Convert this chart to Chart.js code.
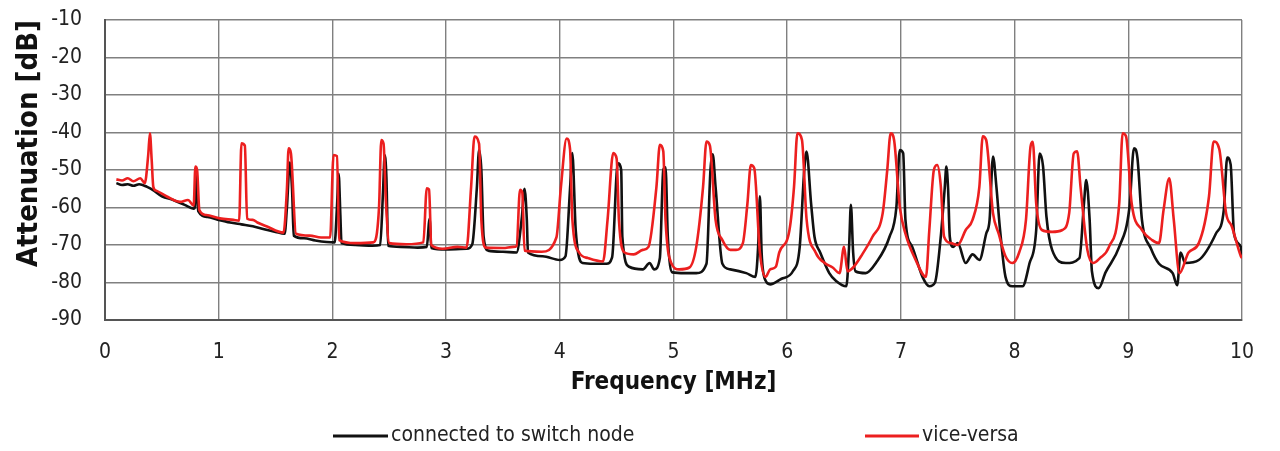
<!DOCTYPE html>
<html>
<head>
<meta charset="utf-8">
<script src="https://cdn.jsdelivr.net/npm/chart.js@4/dist/chart.umd.min.js"></script>
<style>
  html, body { margin: 0; padding: 0; background: #fff; }
  #wrap { width: 1280px; height: 451px; }
</style>
</head>
<body>
<div id="wrap"><canvas id="chartCanvas" width="1280" height="451"></canvas></div>
<script>
"use strict";

// series labels
const seriesNames = ['connected to switch node', 'vice-versa'];

// connected to switch node (black)
const blackFreq = [0.10, 0.15, 0.20, 0.25, 0.30, 0.37, 0.43, 0.50, 0.60, 0.70, 0.78, 0.79, 0.805, 0.82, 0.90,
    1.00, 1.10, 1.20, 1.30, 1.40, 1.50, 1.58, 1.60, 1.625, 1.645, 1.66, 1.75, 1.85, 1.95, 2.02, 2.04, 2.055, 2.07,
    2.08, 2.20, 2.35, 2.42, 2.445, 2.46, 2.475, 2.49, 2.60, 2.75, 2.83, 2.855, 2.87, 3.00, 3.18, 3.23, 3.27, 3.29,
    3.31, 3.33, 3.37, 3.50, 3.62, 3.665, 3.69, 3.71, 3.72, 3.85, 4.00, 4.05, 4.09, 4.11, 4.14, 4.20, 4.30, 4.41,
    4.46, 4.51, 4.54, 4.55, 4.61, 4.73, 4.79, 4.83, 4.88, 4.91, 4.93, 4.95, 4.99, 5.10, 5.20, 5.29, 5.325, 5.345,
    5.37, 5.43, 5.50, 5.64, 5.72, 5.745, 5.76, 5.775, 5.81, 5.85, 5.95, 6.05, 6.11, 6.15, 6.17, 6.21, 6.24, 6.29,
    6.37, 6.43, 6.52, 6.545, 6.56, 6.58, 6.60, 6.69, 6.78, 6.90, 6.96, 6.99, 7.02, 7.04, 7.10, 7.19, 7.25, 7.30,
    7.35, 7.385, 7.40, 7.415, 7.43, 7.46, 7.50, 7.57, 7.63, 7.69, 7.75, 7.78, 7.81, 7.84, 7.87, 7.92, 7.98, 8.07,
    8.13, 8.19, 8.22, 8.25, 8.28, 8.33, 8.45, 8.57, 8.61, 8.63, 8.66, 8.68, 8.74, 8.80, 8.92, 9.01, 9.05, 9.08,
    9.12, 9.20, 9.27, 9.39, 9.43, 9.46, 9.50, 9.62, 9.77, 9.84, 9.87, 9.90, 9.93, 9.99, 10.00];
const blackDb = [-53.5, -54, -53.8, -54.2, -53.8, -54.5, -55.5, -57, -58, -59.3, -60.3, -60, -51, -61, -62.5,
    -63.3, -64, -64.5, -65, -65.8, -66.5, -67, -60, -48, -55, -67.5, -68.2, -68.8, -69.2, -69.3, -60, -51, -62,
    -69.5, -70, -70.2, -70, -56, -46, -52, -70.2, -70.5, -70.7, -70.5, -63, -70.8, -71.2, -71, -69.8, -55, -44.7,
    -50, -67.8, -71.5, -71.8, -72, -63, -55, -63.3, -72, -73, -74, -73, -55, -45.5, -66, -74.8, -75, -75,
    -73.3, -48.2, -50, -67.8, -75.8, -76.5, -74.8, -76.5, -73.5, -50, -49.3, -67.8, -77.3, -77.5, -77.5, -75, -50, -45.8,
    -54.5, -75, -76.5, -77.5, -78.5, -70, -57, -72, -79.5, -80.5, -79, -77, -70.5, -50, -45.1, -58.9, -67.8, -72,
    -77.5, -79.6, -81, -70, -59.3, -72, -77, -77.5, -74.8, -67.8, -60, -44.7, -45.5, -63.3, -70.5, -78.5, -81, -80,
    -68, -55, -49.1, -55, -67.8, -70.5, -69.5, -74.8, -72.5, -74, -67, -63.3, -46.4, -54.5, -65.3, -78.5, -81, -81,
    -75, -66, -45.6, -49, -62.4, -71.3, -74.8, -73.5, -59, -52.7, -63.3, -77, -81.5, -77.3, -70.5, -60, -44.2, -46.7,
    -63.3, -71, -75, -77.5, -80.7, -72, -74.8, -74, -67, -60.7, -46.7, -48.5, -67, -70.5, -73];

// vice-versa (red)
const redFreq = [0.10, 0.15, 0.20, 0.25, 0.31, 0.35, 0.38, 0.395, 0.41, 0.425, 0.45, 0.54, 0.66, 0.73, 0.78,
    0.795, 0.81, 0.83, 0.89, 1.01, 1.13, 1.18, 1.20, 1.23, 1.25, 1.30, 1.34, 1.42, 1.57, 1.60, 1.615, 1.635, 1.68,
    1.80, 1.90, 1.98, 2.01, 2.04, 2.06, 2.20, 2.36, 2.41, 2.43, 2.45, 2.47, 2.50, 2.65, 2.80, 2.83, 2.85, 2.87,
    2.97, 3.10, 3.18, 3.22, 3.25, 3.29, 3.31, 3.35, 3.50, 3.59, 3.62, 3.65, 3.67, 3.69, 3.84, 3.97, 4.01, 4.06,
    4.09, 4.11, 4.17, 4.25, 4.38, 4.42, 4.47, 4.50, 4.52, 4.57, 4.65, 4.73, 4.78, 4.85, 4.88, 4.91, 4.93, 4.98,
    5.05, 5.14, 5.20, 5.26, 5.29, 5.32, 5.37, 5.43, 5.50, 5.55, 5.61, 5.65, 5.68, 5.71, 5.76, 5.81, 5.85, 5.90,
    5.93, 6.02, 6.06, 6.09, 6.13, 6.17, 6.25, 6.33, 6.40, 6.46, 6.50, 6.53, 6.58, 6.66, 6.75, 6.84, 6.88, 6.91,
    6.94, 6.99, 7.04, 7.13, 7.22, 7.25, 7.29, 7.32, 7.35, 7.38, 7.44, 7.50, 7.57, 7.63, 7.69, 7.72, 7.75, 7.81,
    7.86, 7.92, 7.98, 8.04, 8.10, 8.14, 8.16, 8.19, 8.24, 8.33, 8.42, 8.48, 8.52, 8.55, 8.58, 8.64, 8.69, 8.75,
    8.83, 8.92, 8.95, 8.98, 9.03, 9.12, 9.21, 9.27, 9.31, 9.36, 9.40, 9.45, 9.53, 9.62, 9.71, 9.75, 9.80, 9.86,
    9.91, 9.99, 10.00];
const redDb = [-52.5, -52.8, -52.2, -53, -52.2, -53.5, -46, -40.2, -47, -54.5, -55.5, -57, -58.5, -58, -59.5,
    -49.1, -50, -60.7, -62, -62.9, -63.3, -63.5, -42.9, -43.5, -63, -63.3, -64, -65, -66.7, -55, -44.2, -45.5, -67,
    -67.5, -68, -68, -46, -46.3, -68.7, -69.5, -69.3, -60, -42, -43, -58, -69.5, -69.8, -69.3, -54.9, -55.2, -70,
    -71, -70.5, -70.7, -54.5, -41.1, -43, -63.3, -70.7, -70.8, -70.5, -70.3, -55.3, -56, -71.5, -71.8, -68, -54.5, -41.6,
    -44.4, -63, -72, -73.5, -74.4, -63.3, -45.5, -47, -63.3, -72, -72.5, -71.3, -70.5, -54.5, -43.3, -45, -63.3, -74.8,
    -76.5, -76, -70.5, -54.5, -42.4, -43.5, -63.3, -68.7, -71.3, -71.3, -69.5, -59, -48.7, -49.5, -72, -78.5, -76.5, -75.8,
    -72, -66, -54.5, -40.2, -42, -63, -72, -74.8, -76, -77.5, -70.5, -77, -76, -72.5, -67.8, -61.5, -50, -40.2,
    -42, -59.8, -67, -74, -78.5, -66, -50, -48.7, -54, -67.8, -69.5, -70, -66, -63.3, -54.5, -41, -42, -61.5,
    -67, -73, -74.8, -72, -63.3, -43.8, -42.5, -58.9, -66, -66.5, -66, -61.5, -45.6, -45, -54.5, -71.3, -74.8, -73.5,
    -70.5, -59, -40.2, -41, -59, -66, -68.7, -69.5, -60.7, -52.2, -63.3, -77.5, -72, -69.5, -57, -42.4, -44.4, -61.5,
    -65, -73, -73.5];

// axis ranges
const freqTicks = [0, 10, 1];
const dbTicks = [-90, -10, 10];

const toPoints = (xs, ys) => xs.map((x, i) => ({ x: x, y: ys[i] }));

const FONT = "'Liberation Sans Narrow', 'Arial Narrow', 'DejaVu Sans Condensed', sans-serif";

// legend drawn by hand, the two entries sit far apart
const bottomLegend = {
    id: 'bottomLegend',
    afterDraw(chart) {
        const ctx = chart.ctx;
        const spots = [[333, 388], [865, 919]];
        ctx.save();
        ctx.font = "21px " + FONT;
        ctx.textBaseline = 'middle';
        ctx.fillStyle = '#222';
        chart.data.datasets.forEach((ds, i) => {
            const y = 436;
            ctx.strokeStyle = ds.borderColor;
            ctx.lineWidth = 3;
            ctx.beginPath();
            ctx.moveTo(spots[i][0], y);
            ctx.lineTo(spots[i][1], y);
            ctx.stroke();
            ctx.fillText(ds.label, spots[i][1] + 3, y);
        });
        ctx.restore();
    }
};

const ctx = document.getElementById('chartCanvas');

const data = {
    datasets: [{
        label: seriesNames[0],
        data: toPoints(blackFreq, blackDb),
        borderColor: '#111111',
        backgroundColor: '#111111',
        borderWidth: 2.6,
        order: 2
    }, {
        label: seriesNames[1],
        data: toPoints(redFreq, redDb),
        borderColor: '#ec1f1f',
        backgroundColor: '#ec1f1f',
        borderWidth: 2.6,
        order: 1
    }]
};

const config = {
    type: 'line',
    data: data,
    options: {
        responsive: false,
        animation: false,
        events: [],
        layout: { padding: { left: 12, right: 38, top: 20, bottom: 54 } },
        elements: { point: { radius: 0 }, line: { cubicInterpolationMode: 'monotone' } },
        plugins: {
            legend: { display: false },
            tooltip: { enabled: false }
        },
        scales: {
            x: {
                type: 'linear',
                min: freqTicks[0],
                max: freqTicks[1],
                afterFit: (s) => { s.height = 77; },
                ticks: { stepSize: freqTicks[2], padding: 20, color: '#222', font: { family: FONT, size: 21 } },
                grid: { color: '#808080', lineWidth: 1.4, drawTicks: false },
                border: { color: '#555', width: 2 },
                title: {
                    display: true,
                    text: 'Frequency [MHz]',
                    color: '#111',
                    padding: 0,
                    font: { family: FONT, size: 24, weight: 'bold' }
                }
            },
            y: {
                min: dbTicks[0],
                max: dbTicks[1],
                afterFit: (s) => { s.width = 93; s.paddingTop = 10; s.paddingBottom = 10; },
                ticks: { stepSize: dbTicks[2], padding: 23, color: '#222', font: { family: FONT, size: 21 } },
                grid: { color: '#808080', lineWidth: 1.4, drawTicks: false },
                border: { color: '#555', width: 2 },
                title: {
                    display: true,
                    text: 'Attenuation [dB]',
                    align: 'end',
                    color: '#111',
                    padding: 0,
                    font: { family: FONT, size: 29, weight: 'bold' }
                }
            }
        }
    },
    plugins: [bottomLegend]
};

new Chart(ctx, config);
</script>
</body>
</html>
